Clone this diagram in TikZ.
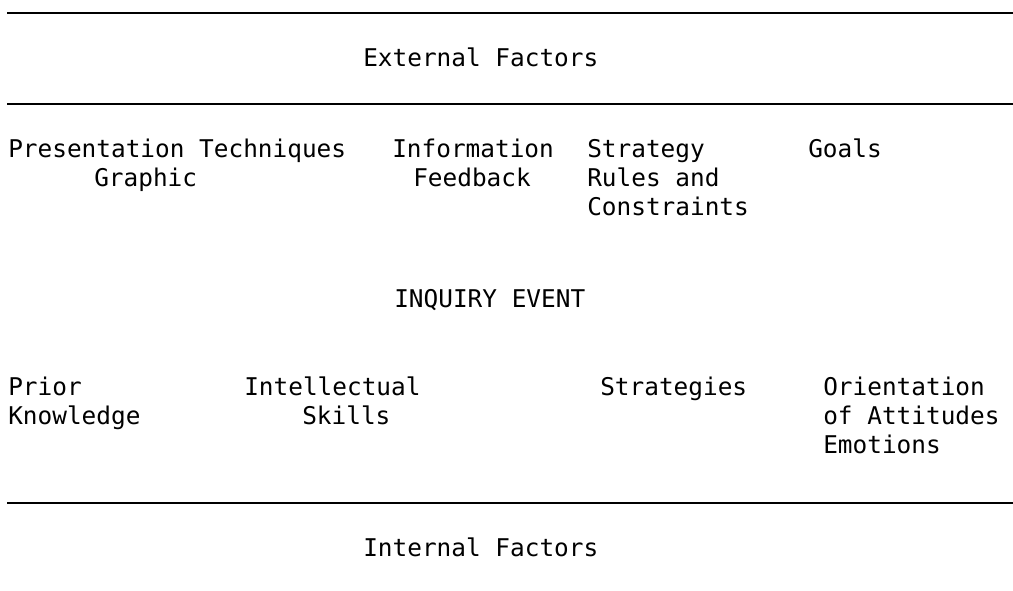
\documentclass[tikz,border=0pt]{standalone}
\usepackage{fontspec}
\setmonofont{DejaVu Sans Mono}
\begin{document}
\begin{tikzpicture}[x=0.75pt, y=-0.75pt,
  every node/.style = {inner sep=0pt, anchor=base west,
    font=\ttfamily\fontsize{18.3}{22}\selectfont},
  rule/.style = {line width=1.5pt}
  ]
  \useasboundingbox (0,0) rectangle (1013,591);
  \draw[rule] (7,13) -- (1013,13);
  \draw[rule] (7,104) -- (1013,104);
  \draw[rule] (7,503) -- (1013,503);
  % external side
  \node (ext) at (363,67) {External Factors};
  \node (pres) at (8,158) {Presentation Techniques};
  \node (graphic) at (94,187) {Graphic};
  \node (info) at (392,158) {Information};
  \node (feedback) at (413,187) {Feedback};
  \node (strategy) at (587,158) {Strategy};
  \node (rules) at (587,187) {Rules and};
  \node (constr) at (587,216) {Constraints};
  \node (goals) at (808,158) {Goals};
  % the event
  \node (event) at (394,308) {INQUIRY EVENT};
  % internal side
  \node (prior) at (8,395) {Prior};
  \node (knowledge) at (8,424) {Knowledge};
  \node (intell) at (244,395) {Intellectual};
  \node (skills) at (302,424) {Skills};
  \node (strategies) at (600,395) {Strategies};
  \node (orient) at (823,395) {Orientation};
  \node (attit) at (823,424) {of Attitudes};
  \node (emot) at (823,453) {Emotions};
  \node (int) at (363,556) {Internal Factors};
\end{tikzpicture}
\end{document}
